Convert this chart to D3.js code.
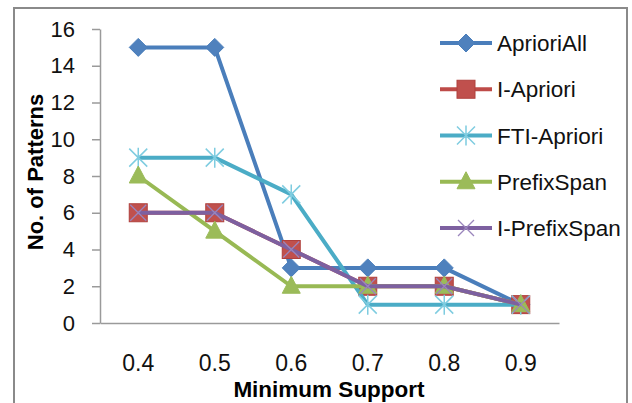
<!DOCTYPE html>
<html><head><meta charset="utf-8">
<script src="https://cdn.jsdelivr.net/npm/d3@7"></script>
<style>body{margin:0;background:#fff}svg{display:block}</style>
</head><body>
<svg id="c" width="632" height="403"></svg>
<script>
const categories = ["0.4","0.5","0.6","0.7","0.8","0.9"];
const seriesNames = ["AprioriAll","I-Apriori","FTI-Apriori","PrefixSpan","I-PrefixSpan"];
const aprioriAll = [15,15,3,3,3,1];
const iApriori = [6,6,4,2,2,1];
const ftiApriori = [9,9,7,1,1,1];
const prefixSpan = [8,5,2,2,2,1];
const iPrefixSpan = [6,6,4,2,2,1];
const yTicks = [0,2,4,6,8,10,12,14,16];

const series = [
  {name:seriesNames[0], values:aprioriAll, line:"#4A7EBB", fill:"#4F81BD", marker:"diamond"},
  {name:seriesNames[1], values:iApriori, line:"#BE4B48", fill:"#C0504D", marker:"square"},
  {name:seriesNames[2], values:ftiApriori, line:"#4BACC6", fill:"#4BACC6", marker:"star"},
  {name:seriesNames[3], values:prefixSpan, line:"#98B954", fill:"#9BBB59", marker:"triangle"},
  {name:seriesNames[4], values:iPrefixSpan, line:"#7D60A0", fill:"#8064A2", marker:"x"}
];

const svg = d3.select("#c");
svg.append("rect").attr("x",14).attr("y",8).attr("width",613).attr("height",420)
  .attr("fill","none").attr("stroke","#8a8a8a").attr("stroke-width",2);

const x = d3.scaleBand().domain(categories).range([100,559]);
const y = d3.scaleLinear().domain([0,16]).range([323,29]);

const font = "'Liberation Sans', Arial, sans-serif";

// Y axis
const ya = svg.append("g").attr("transform","translate(100,0)")
  .call(d3.axisLeft(y).tickValues(yTicks).tickSizeInner(8).tickSizeOuter(0).tickPadding(17));
ya.selectAll("path,line").attr("stroke","#9a9a9a").attr("stroke-width",1.5);
ya.selectAll("text").attr("font-family",font).attr("font-size",22).attr("fill","#111");

// X axis
const xa = svg.append("g").attr("transform","translate(0,323)")
  .call(d3.axisBottom(x).tickSizeInner(0).tickSizeOuter(0).tickPadding(32));
xa.selectAll("path").attr("stroke","#9a9a9a").attr("stroke-width",1.5);
xa.selectAll("text").attr("font-family",font).attr("font-size",23).attr("fill","#111");

// Axis titles
svg.append("text").attr("x",329).attr("y",397).attr("text-anchor","middle")
  .attr("font-family",font).attr("font-weight","bold").attr("font-size",22.5).text("Minimum Support");
svg.append("text").attr("transform","translate(43,172) rotate(-90)").attr("text-anchor","middle")
  .attr("font-family",font).attr("font-weight","bold").attr("font-size",22).text("No. of Patterns");

function drawMarker(g, type, cx, cy, s){
  if(type==="diamond"){
    g.append("path").attr("d",`M${cx},${cy-9}L${cx+9},${cy}L${cx},${cy+9}L${cx-9},${cy}Z`)
      .attr("fill",s.fill).attr("stroke",s.line).attr("stroke-width",1);
  } else if(type==="square"){
    g.append("rect").attr("x",cx-9).attr("y",cy-9).attr("width",18).attr("height",18)
      .attr("fill",s.fill).attr("stroke","#B0403D").attr("stroke-width",1);
  } else if(type==="triangle"){
    g.append("path").attr("d",`M${cx},${cy-10}L${cx+9},${cy+7}L${cx-9},${cy+7}Z`)
      .attr("fill",s.fill).attr("stroke",s.fill).attr("stroke-width",1);
  } else if(type==="star"){
    const r=9;
    g.append("path").attr("d",`M${cx-r},${cy-r}L${cx+r},${cy+r}M${cx+r},${cy-r}L${cx-r},${cy+r}M${cx},${cy-r-1}L${cx},${cy+r+1}`)
      .attr("stroke","#7ECCE0").attr("stroke-width",1.5).attr("fill","none");
  } else if(type==="x"){
    const r=8;
    g.append("path").attr("d",`M${cx-r},${cy-r}L${cx+r},${cy+r}M${cx+r},${cy-r}L${cx-r},${cy+r}`)
      .attr("stroke","#9A85BC").attr("stroke-width",1.3).attr("fill","none");
  }
}

const line = d3.line().x((d,i)=>x(categories[i])+x.bandwidth()/2).y(d=>y(d));
series.forEach(s=>{
  const g = svg.append("g");
  g.append("path").datum(s.values).attr("d",line).attr("fill","none")
    .attr("stroke",s.line).attr("stroke-width",4).attr("stroke-linejoin","round");
  s.values.forEach((v,i)=>drawMarker(g,s.marker,x(categories[i])+x.bandwidth()/2,y(v),s));
});

// Legend
const legY = d3.scaleLinear().domain([0,4]).range([43,228]);
series.forEach((s,i)=>{
  const g = svg.append("g");
  const ly = legY(i);
  g.append("line").attr("x1",440).attr("x2",492).attr("y1",ly).attr("y2",ly)
    .attr("stroke",s.line).attr("stroke-width",4);
  drawMarker(g,s.marker,466,ly,s);
  g.append("text").attr("x",497).attr("y",ly).attr("dy","0.36em")
    .attr("font-family",font).attr("font-size",22.5).attr("fill","#111").text(s.name);
});
</script>
</body></html>
